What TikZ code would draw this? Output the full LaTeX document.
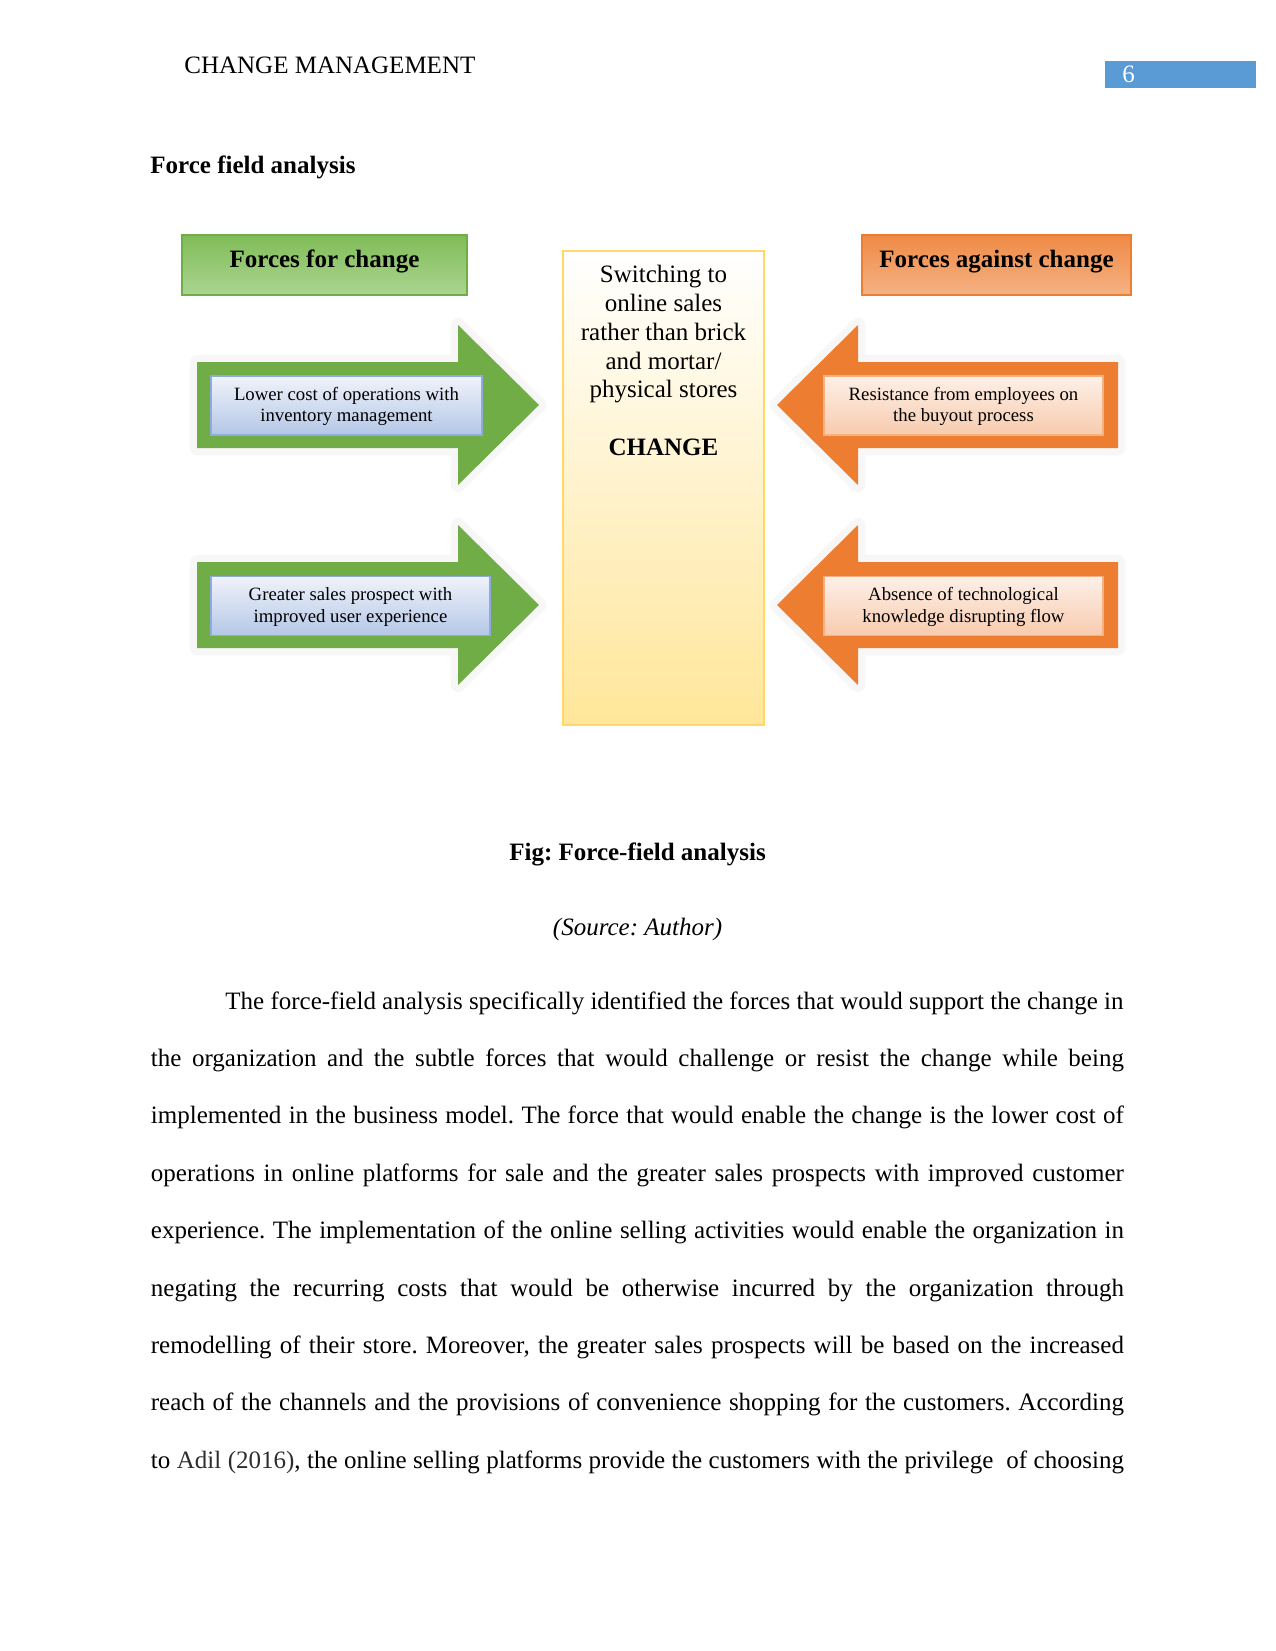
\documentclass[tikz,border=0pt]{standalone}
\usepackage{fontspec}
\setmainfont{Liberation Serif}
\usetikzlibrary{positioning}
\definecolor{ffgreen}{RGB}{112,173,71}
\definecolor{ffgreenhi}{RGB}{128,188,88}
\definecolor{ffgreenlo}{RGB}{171,213,144}
\definecolor{fforange}{RGB}{237,125,49}
\definecolor{fforangehi}{RGB}{239,138,70}
\definecolor{fforangelo}{RGB}{245,178,132}
\definecolor{ffblue}{RGB}{143,170,220}
\definecolor{ffbluehi}{RGB}{240,243,250}
\definecolor{ffbluelo}{RGB}{180,199,231}
\definecolor{ffpeach}{RGB}{244,177,131}
\definecolor{ffpeachhi}{RGB}{253,240,232}
\definecolor{ffpeachlo}{RGB}{248,203,173}
\definecolor{ffyellow}{RGB}{255,217,102}
\definecolor{ffyellowlo}{RGB}{255,230,153}
\definecolor{pagebox}{RGB}{91,155,213}
\definecolor{citegray}{RGB}{45,45,45}
\newlength\pxl
\setlength\pxl{0.48pt}
\frenchspacing

\begin{document}
\begin{tikzpicture}[x=1\pxl,y=-1\pxl,
 font=\fontsize{12}{13.8}\selectfont,
 txt/.style={inner sep=0pt},
 headbox/.style={line width=0.8pt,minimum height=60\pxl,inner sep=0pt},
 forcebox/.style={line width=0.8pt,minimum height=59\pxl,inner sep=0pt,align=center,
   font=\fontsize{9}{10.4}\selectfont},
 glow/.style={draw=black!3,line width=7pt,line join=round},
 bodyline/.style={inner sep=0pt,anchor=base west}]
\useasboundingbox (0,0) rectangle (1275,1651);

% running head
\node[txt,anchor=base west] (runhead) at (184,74) {CHANGE MANAGEMENT};
\node[fill=pagebox,minimum width=151\pxl,minimum height=27\pxl,inner sep=0pt] (pgbox) at (1180.5,74.5) {};
\node[txt,anchor=base west,text=white] (pgnum) at (1122,83) {6};
\node[txt,anchor=base west,font=\fontsize{12}{13.8}\selectfont\bfseries] (title) at (150,174) {Force field analysis};

% headings
\node[headbox,draw=ffgreen,top color=ffgreenhi,bottom color=ffgreenlo,minimum width=285\pxl] (forhd) at (324.5,265) {};
\node[txt,anchor=base,font=\fontsize{12}{13.8}\selectfont\bfseries] (forlbl) at (324.5,267) {Forces for change};
\node[headbox,draw=fforange,top color=fforangehi,bottom color=fforangelo,minimum width=269\pxl] (againsthd) at (996.5,265) {};
\node[txt,anchor=base,font=\fontsize{12}{13.8}\selectfont\bfseries] (againstlbl) at (996.5,267) {Forces against change};

% change column
\node[draw=ffyellow,line width=0.8pt,top color=white,bottom color=ffyellowlo,
  minimum width=201\pxl,minimum height=474\pxl,inner sep=0pt] (chg) at (663.5,488) {};
\node[txt,align=center,anchor=north] (chgtxt) at (663.5,265)
  {Switching to\\online sales\\rather than brick\\and mortar/\\physical stores\\[13.8pt]\textbf{CHANGE}};

% arrows
\foreach \c in {405,605} {
  \draw[glow] (197,\c-43) -- (458,\c-43) -- (458,\c-80) -- (539,\c) -- (458,\c+80) -- (458,\c+43) -- (197,\c+43) -- cycle;
  \fill[ffgreen] (197,\c-43) -- (458,\c-43) -- (458,\c-80) -- (539,\c) -- (458,\c+80) -- (458,\c+43) -- (197,\c+43) -- cycle;
  \draw[glow] (1118,\c-43) -- (858,\c-43) -- (858,\c-80) -- (777,\c) -- (858,\c+80) -- (858,\c+43) -- (1118,\c+43) -- cycle;
  \fill[fforange] (1118,\c-43) -- (858,\c-43) -- (858,\c-80) -- (777,\c) -- (858,\c+80) -- (858,\c+43) -- (1118,\c+43) -- cycle;
}
\node[forcebox,draw=ffblue,top color=ffbluehi,bottom color=ffbluelo,minimum width=271\pxl,text depth=1pt] (lowcost) at (346.5,405.5)
  {Lower cost of operations with\\inventory management};
\node[forcebox,draw=ffblue,top color=ffbluehi,bottom color=ffbluelo,minimum width=279\pxl,text depth=1pt] (sales) at (350.5,606)
  {Greater sales prospect with\\improved user experience};
\node[forcebox,draw=ffpeach,top color=ffpeachhi,bottom color=ffpeachlo,minimum width=279\pxl,text depth=1pt] (resist) at (963.5,405.5)
  {Resistance from employees on\\the buyout process};
\node[forcebox,draw=ffpeach,top color=ffpeachhi,bottom color=ffpeachlo,minimum width=279\pxl,text depth=1pt] (techgap) at (963.5,606)
  {Absence of technological\\knowledge disrupting flow};

% caption
\node[txt,anchor=base,font=\fontsize{12}{13.8}\selectfont\bfseries] (cap) at (637.5,860) {Fig: Force-field analysis};
\node[txt,anchor=base,font=\fontsize{12}{13.8}\selectfont\itshape] (src) at (637.5,935) {(Source: Author)};

% body text
\node[bodyline] (l1) at (225,1009) {\makebox[898\pxl][s]{The force-field analysis specifically identified the forces that would support the change in}};
\node[bodyline] (l2) at (150.5,1066.4) {\makebox[973\pxl][s]{the organization and the subtle forces that would challenge or resist the change while being}};
\node[bodyline] (l3) at (150.5,1123.8) {\makebox[973\pxl][s]{implemented in the business model. The force that would enable the change is the lower cost of}};
\node[bodyline] (l4) at (150.5,1181.2) {\makebox[973\pxl][s]{operations in online platforms for sale and the greater sales prospects with improved customer}};
\node[bodyline] (l5) at (150.5,1238.6) {\makebox[973\pxl][s]{experience. The implementation of the online selling activities would enable the organization in}};
\node[bodyline] (l6) at (150.5,1296) {\makebox[973\pxl][s]{negating the recurring costs that would be otherwise incurred by the organization through}};
\node[bodyline] (l7) at (150.5,1353.4) {\makebox[973\pxl][s]{remodelling of their store. Moreover, the greater sales prospects will be based on the increased}};
\node[bodyline] (l8) at (150.5,1410.8) {\makebox[973\pxl][s]{reach of the channels and the provisions of convenience shopping for the customers. According}};
\node[bodyline] (l9) at (150.5,1468.2) {\makebox[973\pxl][s]{to \textcolor{citegray}{Adil (2016)}, the online selling platforms provide the customers with the privilege\ \ of choosing}};
\end{tikzpicture}
\end{document}
